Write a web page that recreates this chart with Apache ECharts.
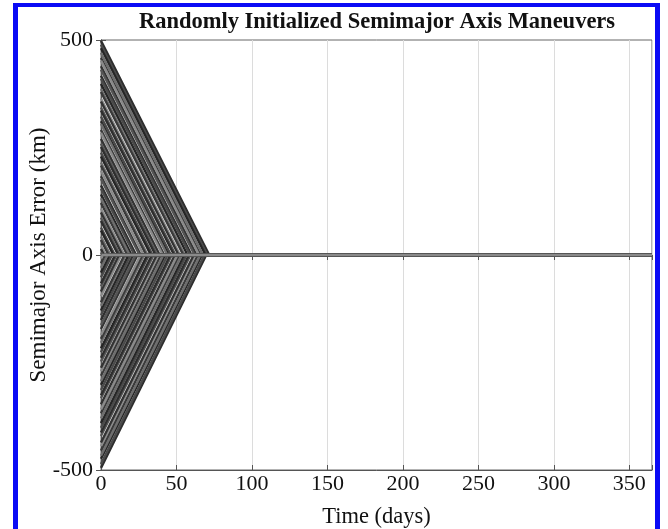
<!DOCTYPE html>
<html>
<head>
<meta charset="utf-8">
<script src="https://cdn.jsdelivr.net/npm/echarts@6/dist/echarts.min.js"></script>
<style>
  html, body { margin: 0; padding: 0; background: #fff; }
  #chart { width: 668px; height: 529px; }
</style>
</head>
<body>
<div id="chart"></div>
<script>
// Initial semimajor axis errors (km) at day 0
const startKm = [
  498, 489, 481, 470, 458, 452, 439, 431, 417, 410, 398, 386, 379, 364, 357, 343,
  336, 322, 311, 305, 291, 284, 270, 259, 251, 238, 229, 215, 208, 196, 183, 177,
  162, 154, 141, 132, 121, 108, 99, 87, 79, 64, 57, 43, 35, 22, 14, 6,
  -495, -486, -474, -467, -455, -444, -436, -421, -413, -402, -391, -380, -368, -359, -347, -333,
  -326, -314, -302, -293, -281, -270, -262, -248, -239, -226, -217, -204, -195, -186, -172, -163,
  -151, -140, -129, -118, -110, -96, -85, -73, -66, -52, -41, -30, -19, -8
];
// Day at which each trajectory reaches zero error
const zeroDay = [
  71.7, 70.4, 69.2, 67.6, 65.9, 65.0, 63.2, 62.0, 60.0, 59.0, 57.3, 55.5, 54.5, 52.4, 51.4, 49.4,
  48.4, 46.3, 44.8, 43.9, 41.9, 40.9, 38.9, 37.3, 36.1, 34.2, 33.0, 30.9, 29.9, 28.2, 26.3, 25.5,
  23.3, 22.2, 20.3, 19.0, 17.4, 15.5, 14.2, 12.5, 11.4, 9.2, 8.2, 6.2, 5.0, 3.2, 2.0, 0.9,
  69.7, 68.5, 66.8, 65.8, 64.1, 62.5, 61.4, 59.3, 58.2, 56.6, 55.1, 53.5, 51.8, 50.6, 48.9, 46.9,
  45.9, 44.2, 42.5, 41.3, 39.6, 38.0, 36.9, 34.9, 33.7, 31.8, 30.6, 28.7, 27.5, 26.2, 24.2, 23.0,
  21.3, 19.7, 18.2, 16.6, 15.5, 13.5, 12.0, 10.3, 9.3, 7.3, 5.8, 4.2, 2.7, 1.1
];
const endDay = 365;
const xTicks = [0, 50, 100, 150, 200, 250, 300, 350];
const yTicks = [-500, 0, 500];

const titleText = 'Randomly Initialized Semimajor Axis Maneuvers';
const xName = 'Time (days)';
const yName = 'Semimajor Axis Error (km)';

const grays = ['#2e2e2e', '#4a4a4a', '#262626', '#6e6e6e', '#3a3a3a', '#8a8a8a', '#333333', '#555555'];
const FONT = '"Liberation Serif", "DejaVu Serif", serif';

const series = startKm.map((v, i) => ({
  type: 'line',
  data: [[0, v], [zeroDay[i], 0], [endDay, 0]],
  showSymbol: false,
  symbol: 'none',
  silent: true,
  lineStyle: { width: 2.4, color: grays[i % grays.length] },
  z: 2
}));

const chart = echarts.init(document.getElementById('chart'), null, { renderer: 'canvas' });
const axisTextStyle = { color: '#111', fontFamily: FONT, fontSize: 22 };
chart.setOption({
  animation: false,
  backgroundColor: '#ffffff',
  title: {
    text: titleText,
    left: 372, textAlign: 'center',
    top: 6,
    textStyle: { fontFamily: FONT, fontWeight: 'bold', fontSize: 22.5, color: '#111' }
  },
  grid: {
    left: 101, right: 16, top: 40, bottom: 59,
    containLabel: false, outerBoundsMode: 'none',
    show: true, borderColor: '#666', borderWidth: 1, backgroundColor: 'transparent'
  },
  xAxis: [{
    type: 'value', min: 0, max: endDay, interval: 50,
    name: xName, nameLocation: 'middle', nameGap: 36, nameMoveOverlap: false,
    nameTextStyle: { ...axisTextStyle, fontSize: 22.5 },
    axisLine: { show: true, onZero: false, lineStyle: { color: '#555', width: 1 } },
    axisTick: { show: true, inside: true, length: 5, lineStyle: { color: '#555' } },
    axisLabel: { show: true, margin: 3, ...axisTextStyle, formatter: v => xTicks.includes(v) ? String(v) : '' },
    splitLine: { show: true, lineStyle: { color: '#dcdcdc', width: 1 } }
  }, {
    type: 'value', min: 0, max: endDay, interval: 50, position: 'top',
    axisLine: { show: true, lineStyle: { color: '#555' } },
    axisTick: { show: true, inside: true, length: 5, lineStyle: { color: '#555' } },
    axisLabel: { show: false }, splitLine: { show: false }
  }],
  yAxis: [{
    type: 'value', min: -500, max: 500, interval: 500,
    name: yName, nameLocation: 'middle', nameGap: 51, nameRotate: 90, nameMoveOverlap: false,
    nameTextStyle: { ...axisTextStyle, fontSize: 23 },
    axisLine: { show: true, onZero: false, lineStyle: { color: '#555', width: 1 } },
    axisTick: { show: true, inside: true, length: 5, lineStyle: { color: '#555' } },
    axisLabel: { show: true, margin: 8, ...axisTextStyle, formatter: v => yTicks.includes(v) ? String(v) : '' },
    splitLine: { show: false }
  }, {
    type: 'value', min: -500, max: 500, interval: 500, position: 'right',
    axisLine: { show: true, lineStyle: { color: '#555' } },
    axisTick: { show: true, inside: true, length: 5, lineStyle: { color: '#555' } },
    axisLabel: { show: false }, splitLine: { show: false }
  }],
  graphic: [
    { type: 'rect', shape: { x: 13, y: 3, width: 5, height: 526 }, style: { fill: '#0a0af5' }, z: 100 },
    { type: 'rect', shape: { x: 13, y: 3, width: 647, height: 4 }, style: { fill: '#0a0af5' }, z: 100 },
    { type: 'rect', shape: { x: 655, y: 3, width: 5, height: 526 }, style: { fill: '#0a0af5' }, z: 100 }
  ],
  series: series
});
</script>
</body>
</html>
